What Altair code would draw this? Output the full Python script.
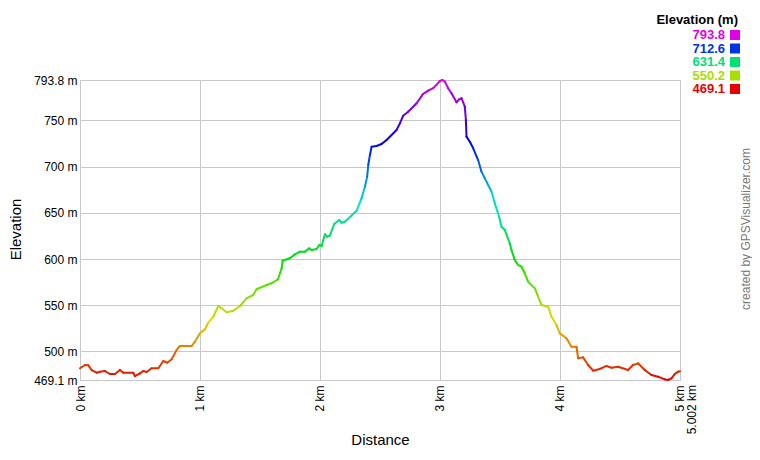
import altair as alt
import pandas as pd

# ---- data ----
distance_km = [
    0.000, 0.042, 0.069, 0.097, 0.139, 0.167, 0.208, 0.250, 0.292, 0.333,
    0.361, 0.444, 0.458, 0.500, 0.528, 0.556, 0.597, 0.653, 0.694, 0.728,
    0.764, 0.806, 0.833, 0.931, 0.958, 1.000, 1.042, 1.069, 1.111, 1.153,
    1.181, 1.222, 1.278, 1.333, 1.389, 1.444, 1.472, 1.556, 1.597, 1.650,
    1.667, 1.681, 1.689, 1.750, 1.792, 1.833, 1.875, 1.911, 1.931, 1.972,
    1.994, 2.014, 2.042, 2.061, 2.083, 2.119, 2.161, 2.181, 2.208, 2.306,
    2.347, 2.375, 2.394, 2.403, 2.417, 2.431, 2.472, 2.514, 2.556, 2.639,
    2.667, 2.694, 2.736, 2.806, 2.861, 2.903, 2.944, 2.972, 3.000, 3.022,
    3.042, 3.069, 3.097, 3.139, 3.161, 3.181, 3.208, 3.217, 3.222, 3.250,
    3.278, 3.319, 3.347, 3.375, 3.403, 3.431, 3.458, 3.494, 3.514, 3.542,
    3.583, 3.597, 3.625, 3.653, 3.681, 3.708, 3.736, 3.792, 3.819, 3.847,
    3.903, 3.931, 3.972, 4.000, 4.056, 4.097, 4.139, 4.153, 4.194, 4.236,
    4.278, 4.333, 4.389, 4.431, 4.486, 4.569, 4.611, 4.653, 4.708, 4.764,
    4.819, 4.875, 4.900, 4.931, 4.958, 4.986, 5.002,
]
elevation_m = [
    481.8, 485.3, 485.0, 479.9, 477.0, 478.0, 478.8, 475.6, 475.6, 480.0,
    477.0, 477.0, 473.4, 476.3, 478.8, 477.8, 481.8, 481.8, 489.7, 487.8,
    491.5, 501.6, 505.9, 505.9, 510.6, 519.6, 524.0, 531.1, 537.6, 549.2,
    546.7, 542.4, 544.1, 549.2, 557.5, 561.1, 567.3, 571.9, 573.8, 578.0,
    584.6, 590.0, 598.2, 600.8, 605.1, 608.0, 608.0, 611.6, 609.8, 610.9,
    615.2, 614.1, 626.8, 624.2, 625.3, 637.9, 642.3, 639.3, 640.4, 652.3,
    665.7, 678.3, 689.1, 701.8, 712.6, 721.6, 722.4, 724.5, 728.9, 739.7,
    746.9, 755.2, 759.5, 768.6, 778.7, 782.3, 784.9, 788.5, 792.7, 793.8,
    792.0, 784.9, 779.4, 769.7, 772.9, 774.0, 765.0, 750.5, 732.5, 727.0,
    719.9, 707.2, 694.6, 687.3, 680.2, 672.9, 660.3, 645.8, 635.0, 631.4,
    617.0, 609.8, 598.9, 593.5, 591.7, 584.6, 575.5, 568.3, 559.3, 550.3,
    548.4, 537.6, 528.6, 519.6, 514.2, 505.1, 505.1, 492.6, 493.6, 485.3,
    479.2, 481.0, 484.3, 482.4, 483.5, 480.0, 485.3, 487.1, 480.0, 474.5,
    472.7, 469.8, 469.1, 470.9, 475.6, 478.1, 478.5,
]
legend_values = [793.8, 712.6, 631.4, 550.2, 469.1]
legend_colors = ["#e000e6", "#0033e6", "#00e070", "#aadd00", "#e60000"]
y_ticks = [469.1, 500, 550, 600, 650, 700, 750, 793.8]
x_ticks = [0, 1, 2, 3, 4, 5]
end_label = "5.002 km"
FONT = "Liberation Sans"
GRID = "#c8c8c8"

seg = pd.DataFrame({
    "d": distance_km[:-1], "e": elevation_m[:-1],
    "d2": distance_km[1:], "e2": elevation_m[1:],
})
seg["c"] = (seg["e"] + seg["e2"]) / 2

color_scale = alt.Scale(domain=sorted(legend_values),
                        range=legend_colors[::-1], interpolate="hsl")
x_scale = alt.Scale(domain=[0, max(distance_km)], nice=False, zero=False)
y_scale = alt.Scale(domain=[min(legend_values), max(legend_values)], nice=False, zero=False)

line = alt.Chart(seg).mark_rule(strokeWidth=2, strokeCap="round").encode(
    x=alt.X("d:Q", scale=x_scale, axis=alt.Axis(
        values=x_ticks, labelExpr="datum.value + ' km'", labelAngle=270,
        labelAlign="right", labelBaseline="middle",
        labelPadding=5, ticks=False, grid=True, gridColor=GRID, domainColor=GRID,
        labelFont=FONT, labelFontSize=12, labelColor="#000",
        labelFlush=False, labelOverlap=False,
        title="Distance", titleFont=FONT, titleFontSize=15, titleFontWeight="normal",
        titleColor="#000", titleX=300, titleY=64, titleBaseline="alphabetic")),
    x2="d2:Q",
    y=alt.Y("e:Q", scale=y_scale, axis=alt.Axis(
        values=y_ticks, labelExpr="format(datum.value, '.4~g') + ' m'",
        labelPadding=3, ticks=False, grid=True, gridColor=GRID, domain=False,
        labelFont=FONT, labelFontSize=12, labelColor="#000",
        labelFlush=False, labelOverlap=False,
        title="Elevation", titleFont=FONT, titleFontSize=15, titleFontWeight="normal",
        titleColor="#000", titleX=-65, titleY=149, titleAngle=270,
        titleAlign="center", titleBaseline="middle")),
    y2="e2:Q",
    color=alt.Color("c:Q", scale=color_scale, legend=None),
)

end_df = pd.DataFrame({"d": [max(distance_km)], "t": [end_label]})
end_text = alt.Chart(end_df).mark_text(
    angle=270, align="right", baseline="middle", dy=12,
    font=FONT, fontSize=12, color="#000",
).encode(x=alt.X("d:Q", scale=x_scale), y=alt.value(305), text="t:N")

leg_df = pd.DataFrame({
    "v": legend_values,
    "label": [f"{v:.1f}" for v in legend_values],
    "rank": list(range(len(legend_values))),
})
leg_y = alt.Y("rank:O", scale=alt.Scale(type="point", range=[-45, 9], padding=0), axis=None)
leg_text = alt.Chart(leg_df).mark_text(
    align="right", baseline="middle", font=FONT, fontSize=13, fontWeight="bold",
).encode(x=alt.value(645), y=leg_y, text="label:N",
         color=alt.Color("v:Q", scale=color_scale, legend=None))
leg_sq = alt.Chart(leg_df).mark_square(size=100, filled=True, opacity=1).encode(
    x=alt.value(655), y=leg_y, color=alt.Color("v:Q", scale=color_scale, legend=None))

title_df = pd.DataFrame({"t": ["Elevation (m)"]})
leg_title = alt.Chart(title_df).mark_text(
    align="right", baseline="middle", font=FONT, fontSize=13, fontWeight="bold", color="#000",
).encode(x=alt.value(658), y=alt.value(-60), text="t:N")

credit_df = pd.DataFrame({"t": ["created by GPSVisualizer.com"]})
credit = alt.Chart(credit_df).mark_text(
    angle=270, align="center", baseline="middle", font=FONT, fontSize=12, color="#777777",
).encode(x=alt.value(666), y=alt.value(149), text="t:N")

chart = alt.layer(line, end_text, leg_text, leg_sq, leg_title, credit).resolve_scale(
    y="independent"
).properties(
    width=600, height=300,
    autosize=alt.AutoSizeParams(type="none"),
    padding={"left": 72, "top": 72, "right": 72, "bottom": 68},
    background="white",
).configure_view(stroke=GRID)

chart.save("out.html", embed_options={"renderer": "svg", "actions": False})
